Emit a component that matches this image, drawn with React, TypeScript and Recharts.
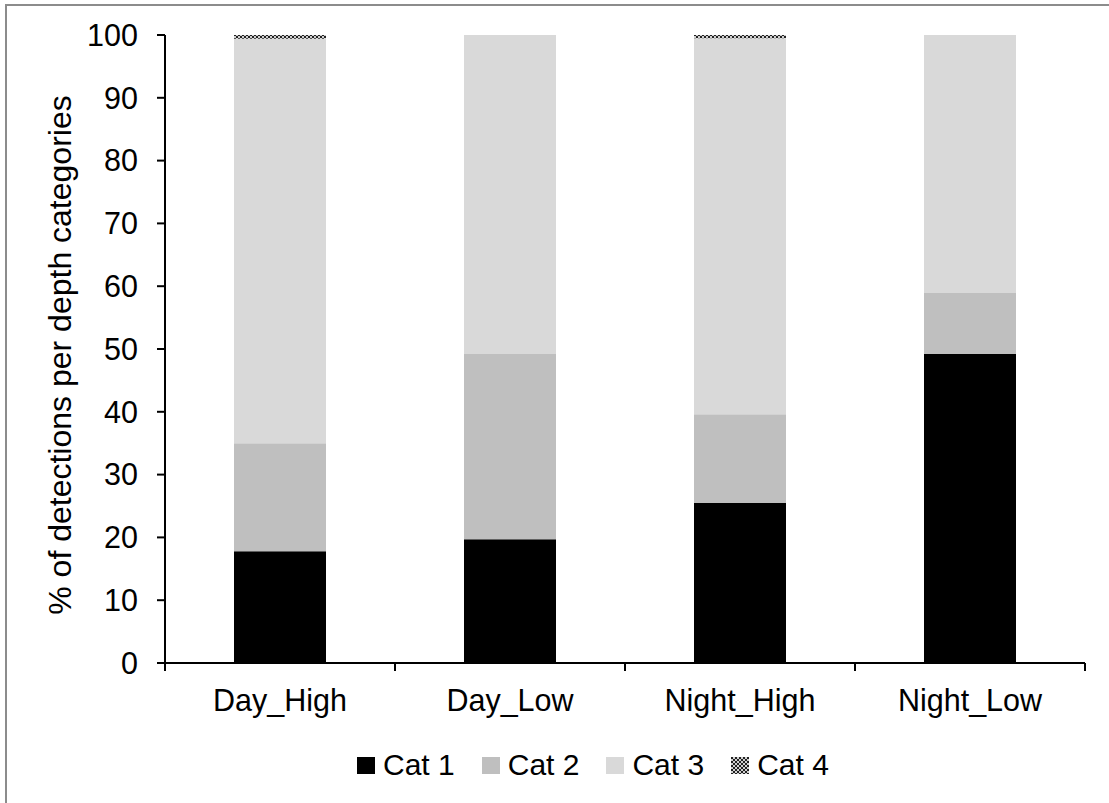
import React from "react";
import { BarChart, Bar, XAxis, YAxis, Legend } from "recharts";

const categories = ["Day_High", "Day_Low", "Night_High", "Night_Low"];
const cat1 = [17.8, 19.7, 25.5, 49.2];
const cat2 = [17.2, 29.5, 14.1, 9.7];
const cat3 = [64.4, 50.8, 59.9, 41.1];
const cat4 = [0.6, 0, 0.5, 0];
const yTicks = [0, 10, 20, 30, 40, 50, 60, 70, 80, 90, 100];

const data = categories.map((name, i) => ({
  name,
  c1: cat1[i],
  c2: cat2[i],
  c3: cat3[i],
  c4: cat4[i],
}));

const FONT = '"Liberation Sans", Arial, sans-serif';

function renderLegend(props: any) {
  const { payload } = props;
  return (
    <div
      style={{
        display: "flex",
        alignItems: "center",
        paddingLeft: 357,
        height: 40,
        fontFamily: FONT,
        fontSize: 30,
        color: "#000",
      }}
    >
      {payload.map((entry: any) => (
        <div key={entry.value} style={{ display: "flex", alignItems: "center", marginRight: 27 }}>
          <svg width={18} height={17} style={{ marginRight: 8 }}>
            <rect x={0} y={0} width={18} height={17} fill={entry.color} />
          </svg>
          <span>{entry.value}</span>
        </div>
      ))}
    </div>
  );
}

// category label plus tick marks on the band edges
function CatTick(props: any) {
  const { x, y, payload, index, visibleTicksCount } = props;
  const half = payload.offset ?? 115;
  const last = index === visibleTicksCount - 1;
  return (
    <g>
      <line x1={x - half} x2={x - half} y1={y} y2={y + 8} stroke="#000" strokeWidth={2} />
      {last && <line x1={x + half} x2={x + half} y1={y} y2={y + 8} stroke="#000" strokeWidth={2} />}
      <text x={x} y={y + 26} dy="0.71em" textAnchor="middle" fontFamily={FONT} fontSize={30.5} fill="#000">
        {payload.value}
      </text>
    </g>
  );
}

function YLabel(props: any) {
  const { viewBox } = props;
  const cx = 71;
  const cy = viewBox.y + viewBox.height / 2 + 6;
  return (
    <text
      x={cx}
      y={cy}
      transform={`rotate(-90, ${cx}, ${cy})`}
      textAnchor="middle"
      fontFamily={FONT}
      fontSize={32}
      fill="#000"
    >
      % of detections per depth categories
    </text>
  );
}

export default function App() {
  return (
    <div style={{ position: "absolute", left: 0, top: 0, width: 1109, height: 803, background: "#fff" }}>
      <div
        style={{
          position: "absolute",
          left: 5,
          top: 4,
          width: 1104,
          height: 799,
          borderLeft: "2px solid #8c8c8c",
          borderTop: "2px solid #8c8c8c",
          boxSizing: "border-box",
        }}
      />
      <BarChart
        width={1109}
        height={803}
        data={data}
        margin={{ top: 35, right: 24, left: 0, bottom: 18 }}
        barCategoryGap="30%"
        style={{ position: "absolute", left: 0, top: 0 }}
      >
        <defs>
          <pattern id="cat4" width={4} height={4} patternUnits="userSpaceOnUse">
            <rect x={0} y={0} width={4} height={4} fill="#d0d0d0" />
            <rect x={0} y={0} width={2} height={2} fill="#222" />
            <rect x={2} y={2} width={2} height={2} fill="#222" />
          </pattern>
        </defs>
        <XAxis
          dataKey="name"
          axisLine={{ stroke: "#000", strokeWidth: 2 }}
          tickLine={false}
          tickSize={0}
          tickMargin={0}
          height={82}
          interval={0}
          tick={<CatTick />}
        />
        <YAxis
          domain={[0, 100]}
          ticks={yTicks}
          interval={0}
          width={165}
          tickSize={8}
          tickMargin={19}
          axisLine={{ stroke: "#000", strokeWidth: 2 }}
          tickLine={{ stroke: "#000", strokeWidth: 2 }}
          tick={{ fill: "#000", fontSize: 30.5, fontFamily: FONT }}
          label={<YLabel />}
        />
        <Legend verticalAlign="bottom" content={renderLegend} wrapperStyle={{ height: 40 }} />
        <Bar dataKey="c1" name="Cat 1" stackId="a" fill="#000000" isAnimationActive={false} />
        <Bar dataKey="c2" name="Cat 2" stackId="a" fill="#bfbfbf" isAnimationActive={false} />
        <Bar dataKey="c3" name="Cat 3" stackId="a" fill="#d9d9d9" isAnimationActive={false} />
        <Bar dataKey="c4" name="Cat 4" stackId="a" fill="url(#cat4)" isAnimationActive={false} />
      </BarChart>
    </div>
  );
}
